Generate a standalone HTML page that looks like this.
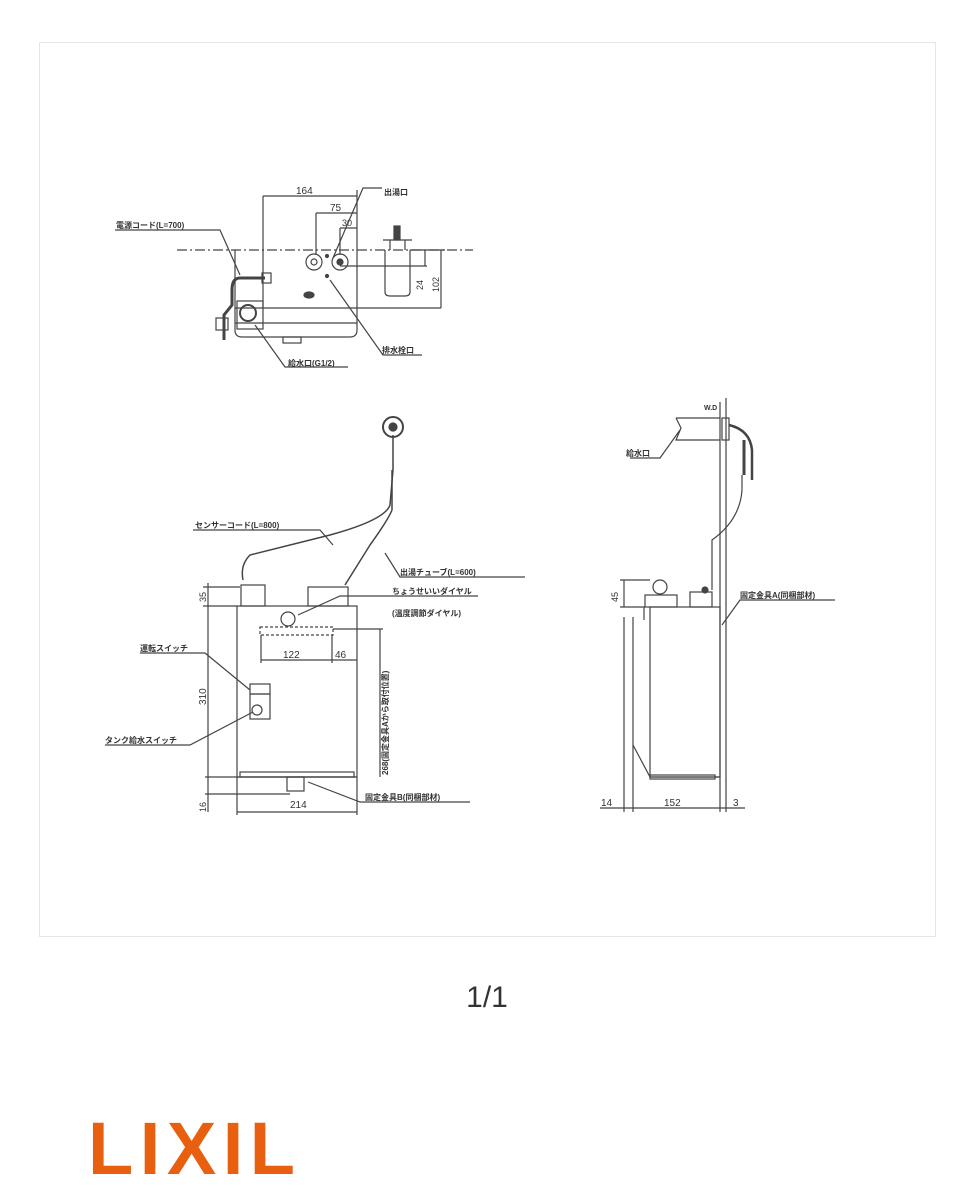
<!DOCTYPE html>
<html><head><meta charset="utf-8"><style>
html,body{margin:0;padding:0;background:#fff;}
svg{display:block}
</style></head><body>
<svg width="975" height="1200" viewBox="0 0 975 1200" xmlns="http://www.w3.org/2000/svg" font-family="Liberation Sans, Noto Sans CJK JP, sans-serif">
<rect x="39.5" y="42.5" width="896" height="894" fill="#fff" stroke="#e6e6e6"/>
<g stroke="#444" fill="none" stroke-width="1.2">
<!-- TOP VIEW -->
<line x1="177" y1="250" x2="473" y2="250" stroke-dasharray="10,3,2,3"/>
<path d="M235 250 V330 Q235 337 242 337 H350 Q357 337 357 330 V250"/>
<line x1="263" y1="196" x2="263" y2="308"/>
<line x1="357" y1="190" x2="357" y2="250"/>
<line x1="263" y1="196" x2="357" y2="196"/>
<line x1="316" y1="213" x2="357" y2="213"/><line x1="316" y1="213" x2="316" y2="255"/>
<line x1="340" y1="228" x2="357" y2="228"/><line x1="340" y1="228" x2="340" y2="255"/>
<line x1="235" y1="308" x2="441" y2="308"/>
<line x1="235" y1="323" x2="357" y2="323"/>
<rect x="283" y="337" width="18" height="6"/>
<circle cx="314" cy="262" r="8"/><circle cx="340" cy="262" r="8"/>
<circle cx="314" cy="262" r="3"/><circle cx="340" cy="262" r="3" fill="#444"/>
<circle cx="327" cy="256" r="1.5" fill="#444"/><circle cx="327" cy="276" r="1.5" fill="#444"/>
<ellipse cx="309" cy="295" rx="5" ry="3" fill="#444"/>
<line x1="340" y1="266" x2="427" y2="266"/>
<path d="M385 250 V292 Q385 296 390 296 H405 Q410 296 410 292 V250"/>
<path d="M383 240 H412 M390 240 V250 M405 240 V250"/>
<rect x="394" y="226" width="6" height="14" fill="#444"/>
<line x1="425" y1="250" x2="425" y2="266"/>
<line x1="441" y1="250" x2="441" y2="308"/>
<line x1="410" y1="250" x2="445" y2="250"/>
<path d="M265 278 H240 Q232 278 232 290 V305 L224 315 V340" stroke-width="3"/>
<rect x="262" y="273" width="9" height="10"/>
<rect x="216" y="318" width="12" height="12"/>
<rect x="237" y="301" width="26" height="28"/>
<circle cx="248" cy="313" r="8" stroke-width="2"/>
<polyline points="115,230 220,230 240,275"/>
<polyline points="382,188 363,188 333,258"/>
<polyline points="422,355 383,355 330,280"/>
<polyline points="348,367 285,367 255,325"/>
<!-- FRONT VIEW -->
<circle cx="393" cy="427" r="10" stroke-width="2"/>
<circle cx="393" cy="427" r="4" fill="#444"/>
<path d="M393 435 V470 L390 505 Q385 520 330 535 L250 555 Q240 565 243 580" stroke-width="1.5"/>
<path d="M392 470 L392 510 Q388 520 370 545 L345 585" stroke-width="1.5"/>
<polyline points="193,530 320,530 333,545"/>
<polyline points="525,577 400,577 385,553"/>
<rect x="237" y="606" width="120" height="171"/>
<rect x="241" y="585" width="24" height="21"/><rect x="308" y="587" width="40" height="19"/>
<circle cx="288" cy="619" r="7"/>
<path d="M260 627 H333 V635 H260 Z" stroke-dasharray="3,2"/>
<line x1="261" y1="635" x2="261" y2="663"/><line x1="332" y1="635" x2="332" y2="663"/>
<line x1="261" y1="660" x2="357" y2="660"/>
<line x1="333" y1="629" x2="383" y2="629"/>
<line x1="380" y1="629" x2="380" y2="777"/>
<polyline points="478,596 340,596 298,615"/>
<rect x="250" y="684" width="20" height="10"/><rect x="250" y="694" width="20" height="25"/>
<circle cx="257" cy="710" r="5"/>
<polyline points="140,653 205,653 250,690"/>
<polyline points="105,745 190,745 253,712"/>
<line x1="203" y1="587" x2="240" y2="587"/>
<line x1="208" y1="583" x2="208" y2="812"/>
<line x1="203" y1="606" x2="237" y2="606"/>
<line x1="205" y1="777" x2="357" y2="777"/>
<rect x="240" y="772" width="114" height="5"/>
<line x1="205" y1="794" x2="290" y2="794"/>
<rect x="287" y="777" width="17" height="14"/>
<line x1="237" y1="777" x2="237" y2="815"/><line x1="357" y1="777" x2="357" y2="815"/>
<line x1="237" y1="812" x2="357" y2="812"/>
<polyline points="470,802 360,802 308,782"/>
<!-- SIDE VIEW -->
<line x1="720" y1="402" x2="720" y2="812"/><line x1="726" y1="398" x2="726" y2="812"/>
<path d="M676 418 H720 M676 418 L681 428 L676 440 H720"/>
<polyline points="630,458 660,458 680,430"/>
<rect x="722" y="418" width="7" height="22"/>
<path d="M729 425 Q750 430 752 450 V480" stroke-width="2.5"/>
<path d="M744 440 V475" stroke-width="3"/>
<path d="M742 475 V490 Q740 520 712 540 V590" stroke-width="1.2"/>
<rect x="650" y="607" width="70" height="170"/>
<line x1="644" y1="607" x2="644" y2="620"/>
<path d="M633 745 L650 777 H720"/>
<rect x="650" y="775" width="65" height="4"/>
<rect x="645" y="595" width="32" height="12"/>
<circle cx="660" cy="587" r="7"/>
<rect x="690" y="592" width="22" height="15"/>
<circle cx="705" cy="590" r="3" fill="#444"/>
<line x1="620" y1="580" x2="650" y2="580"/><line x1="624" y1="580" x2="624" y2="607"/>
<line x1="620" y1="607" x2="645" y2="607"/>
<line x1="624" y1="617" x2="624" y2="812"/><line x1="633" y1="617" x2="633" y2="812"/>
<line x1="600" y1="808" x2="745" y2="808"/>
<polyline points="835,600 740,600 722,625"/>
</g>
<g fill="#333" font-size="8" font-weight="bold">
<text x="296" y="194" font-size="10" font-weight="normal">164</text>
<text x="330" y="211" font-size="10" font-weight="normal">75</text>
<text x="342" y="226" font-size="9" font-weight="normal">30</text>
<text x="384" y="195">出湯口</text>
<text x="116" y="228">電源コード(L=700)</text>
<text x="382" y="353">排水栓口</text>
<text x="288" y="366">給水口(G1/2)</text>
<text transform="translate(423,290) rotate(-90)" font-size="9" font-weight="normal">24</text>
<text transform="translate(439,292) rotate(-90)" font-size="9" font-weight="normal">102</text>
<text x="195" y="528">センサーコード(L=800)</text>
<text x="400" y="575">出湯チューブ(L=600)</text>
<text x="392" y="594">ちょうせいいダイヤル</text>
<text x="392" y="616">(温度調節ダイヤル)</text>
<text x="283" y="658" font-size="10" font-weight="normal">122</text>
<text x="335" y="658" font-size="10" font-weight="normal">46</text>
<text x="140" y="651">運転スイッチ</text>
<text x="105" y="743">タンク給水スイッチ</text>
<text x="290" y="808" font-size="10" font-weight="normal">214</text>
<text x="365" y="800">固定金具B(同梱部材)</text>
<text transform="translate(206,705) rotate(-90)" font-size="10" font-weight="normal">310</text>
<text transform="translate(206,602) rotate(-90)" font-size="9" font-weight="normal">35</text>
<text transform="translate(206,812) rotate(-90)" font-size="9" font-weight="normal">16</text>
<text transform="translate(388,775) rotate(-90)" font-size="8">268(固定金具Aから取付位置)</text>
<text x="704" y="410" font-size="7">W.D</text>
<text x="626" y="456">給水口</text>
<text x="740" y="598">固定金具A(同梱部材)</text>
<text transform="translate(618,602) rotate(-90)" font-size="9" font-weight="normal">45</text>
<text x="601" y="806" font-size="10" font-weight="normal">14</text>
<text x="664" y="806" font-size="10" font-weight="normal">152</text>
<text x="733" y="806" font-size="10" font-weight="normal">3</text>
</g>
<text x="487" y="1007" text-anchor="middle" font-size="30" fill="#333">1/1</text>
<text x="88" y="1174" font-size="74" font-weight="bold" fill="#e8600f" textLength="207" lengthAdjust="spacing">LIXIL</text>
</svg>
</body></html>
